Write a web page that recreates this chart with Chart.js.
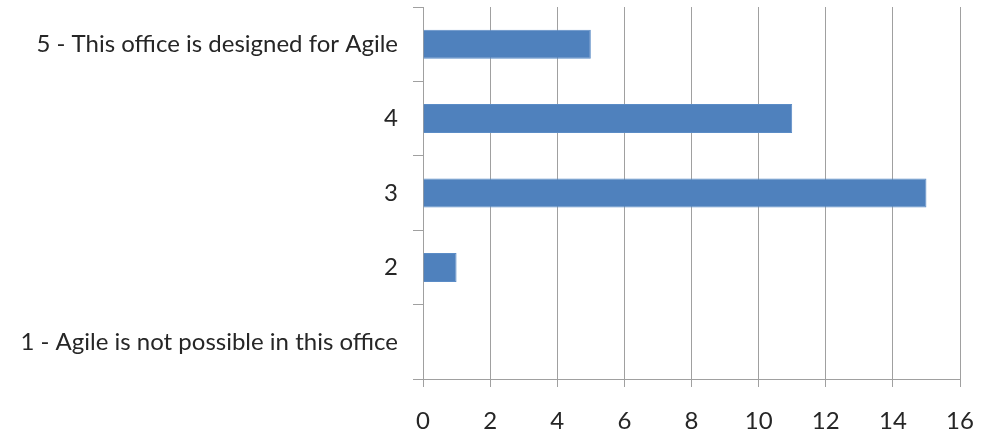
<!DOCTYPE html>
<html>
<head>
<meta charset="utf-8">
<script src="https://cdn.jsdelivr.net/npm/chart.js@4"></script>
<style>
    html, body { margin: 0; padding: 0; background: #fff; }
    #wrap { width: 990px; height: 436px; }
</style>
</head>
<body>
<div id="wrap"><canvas id="agileChart"></canvas></div>
<script>
// categories top to bottom
const ratings = ['5 - This office is designed for Agile', '4', '3', '2', '1 - Agile is not possible in this office'];
const responses = [5, 11, 15, 1, 0];
const xTicks = { min: 0, max: 16, step: 2 };

const gridGrey = '#a0a0a0';
const textColor = '#262626';

Chart.defaults.font.family = "Lato, 'Open Sans', sans-serif";
Chart.defaults.font.size = 24;
Chart.defaults.color = textColor;

const ctx = document.getElementById('agileChart').getContext('2d');
new Chart(ctx, {
    type: 'bar',
    data: {
        labels: ratings,
        datasets: [{
            data: responses,
            backgroundColor: '#4f81bd',
            borderColor: '#5b8cc6',
            borderWidth: 1,
            barPercentage: 0.39,
            categoryPercentage: 1
        }]
    },
    options: {
        indexAxis: 'y',
        responsive: true,
        maintainAspectRatio: false,
        animation: false,
        layout: { padding: { top: 7, right: 30, left: 0, bottom: 0 } },
        plugins: { legend: { display: false }, tooltip: { enabled: false } },
        scales: {
            x: {
                min: xTicks.min,
                max: xTicks.max,
                ticks: { stepSize: xTicks.step, padding: 20, color: textColor },
                grid: { color: gridGrey, lineWidth: 1, tickLength: 8 },
                border: { display: true, color: gridGrey },
                afterFit: scale => {
                    scale.height = 57;
                    scale.paddingLeft = 0;
                    scale.paddingRight = 0;
                }
            },
            y: {
                ticks: { padding: 15, color: textColor },
                grid: { drawOnChartArea: false, color: gridGrey, tickLength: 10, offset: true },
                border: { display: true, color: gridGrey },
                afterFit: scale => {
                    scale.width = 423;
                    scale.paddingTop = 0;
                    scale.paddingBottom = 0;
                }
            }
        }
    }
});
</script>
</body>
</html>
